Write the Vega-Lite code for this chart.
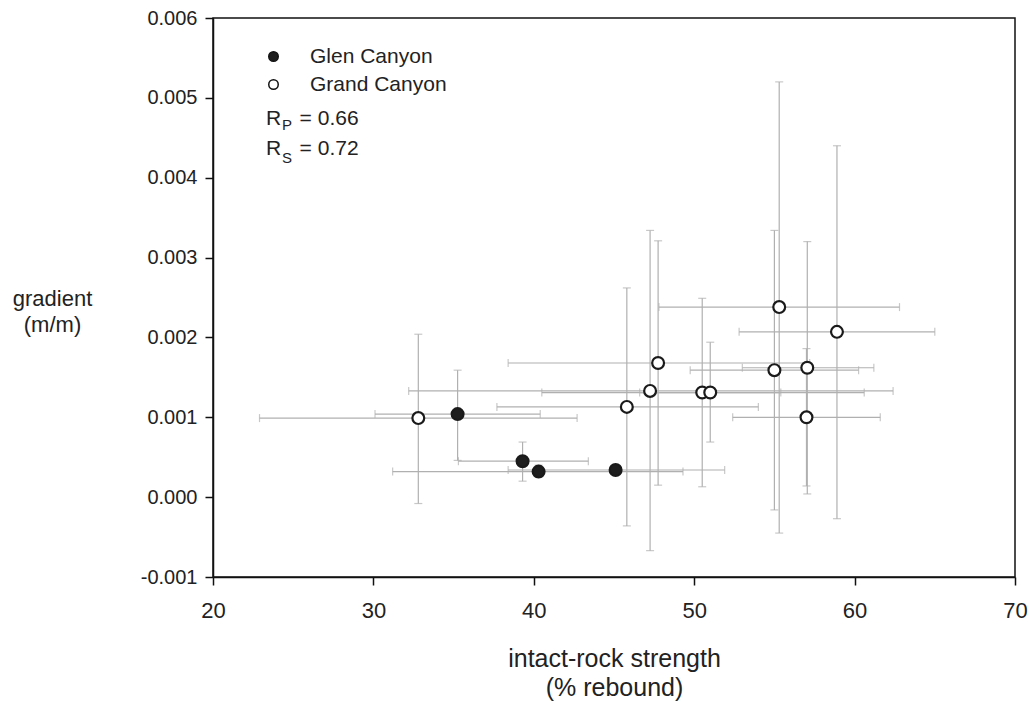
{
  "$schema": "https://vega.github.io/schema/vega-lite/v6.json",
  "width": 802,
  "height": 559,
  "autosize": {"type": "none"},
  "padding": {"left": 213, "top": 18, "right": 14, "bottom": 125},
  "background": "white",
  "config": {
    "view": {"stroke": "#111", "strokeWidth": 1.5},
    "axis": {
      "grid": false,
      "domainColor": "#111",
      "domainWidth": 1.5,
      "tickColor": "#111",
      "tickWidth": 1.5,
      "tickSize": 8,
      "labelColor": "#222",
      "titleColor": "#222",
      "labelFont": "Liberation Sans",
      "titleFont": "Liberation Sans",
      "labelFontSize": 20,
      "titleFontSize": 22,
      "titleFontWeight": "normal",
      "labelFlush": false
    },
    "legend": {
      "orient": "none",
      "legendX": 50,
      "legendY": 28,
      "padding": 0,
      "labelFont": "Liberation Sans",
      "labelFontSize": 21,
      "labelColor": "#222",
      "labelOffset": 26,
      "symbolSize": 90,
      "symbolType": "circle",
      "symbolStrokeColor": "#111",
      "symbolStrokeWidth": 1.5,
      "rowPadding": 6
    }
  },
  "datasets": {
    "pts": [
      {"site": "Glen Canyon", "x": 35.25, "y": 0.00104, "xlo": 30.1, "xhi": 40.4, "ylo": 0.00046, "yhi": 0.00159},
      {"site": "Glen Canyon", "x": 39.3, "y": 0.00045, "xlo": 35.3, "xhi": 43.4, "ylo": 0.0002, "yhi": 0.00069},
      {"site": "Glen Canyon", "x": 40.3, "y": 0.00032, "xlo": 31.2, "xhi": 49.3, "ylo": 0.00025, "yhi": 0.0004},
      {"site": "Glen Canyon", "x": 45.1, "y": 0.00034, "xlo": 38.4, "xhi": 51.9, "ylo": 0.0003, "yhi": 0.00038},
      {"site": "Grand Canyon", "x": 32.8, "y": 0.00099, "xlo": 22.9, "xhi": 42.7, "ylo": -0.00008, "yhi": 0.00204},
      {"site": "Grand Canyon", "x": 45.8, "y": 0.00113, "xlo": 37.7, "xhi": 54.0, "ylo": -0.00036, "yhi": 0.00262},
      {"site": "Grand Canyon", "x": 47.25, "y": 0.00133, "xlo": 32.2, "xhi": 62.4, "ylo": -0.00067, "yhi": 0.00334},
      {"site": "Grand Canyon", "x": 47.75, "y": 0.00168, "xlo": 38.4, "xhi": 57.2, "ylo": 0.00015, "yhi": 0.00321},
      {"site": "Grand Canyon", "x": 50.5, "y": 0.00131, "xlo": 40.5, "xhi": 60.6, "ylo": 0.00013, "yhi": 0.00249},
      {"site": "Grand Canyon", "x": 51.0, "y": 0.00131, "xlo": 46.6, "xhi": 55.4, "ylo": 0.00069, "yhi": 0.00194},
      {"site": "Grand Canyon", "x": 55.0, "y": 0.00159, "xlo": 49.75, "xhi": 60.25, "ylo": -0.00016, "yhi": 0.00334},
      {"site": "Grand Canyon", "x": 55.3, "y": 0.00238, "xlo": 47.8, "xhi": 62.8, "ylo": -0.00045, "yhi": 0.0052},
      {"site": "Grand Canyon", "x": 57.05, "y": 0.00162, "xlo": 53.0, "xhi": 61.2, "ylo": 0.00004, "yhi": 0.0032},
      {"site": "Grand Canyon", "x": 57.0, "y": 0.001, "xlo": 52.4, "xhi": 61.6, "ylo": 0.00014, "yhi": 0.00186},
      {"site": "Grand Canyon", "x": 58.9, "y": 0.00207, "xlo": 52.8, "xhi": 65.0, "ylo": -0.00027, "yhi": 0.0044}
    ],
    "notes": [
      {"t": "R", "x": 23.3, "y": 0.00466, "k": "m"},
      {"t": "P", "x": 24.3, "y": 0.0046, "k": "s"},
      {"t": "= 0.66", "x": 25.4, "y": 0.00466, "k": "m"},
      {"t": "R", "x": 23.3, "y": 0.00428, "k": "m"},
      {"t": "S", "x": 24.3, "y": 0.00419, "k": "s"},
      {"t": "= 0.72", "x": 25.4, "y": 0.00428, "k": "m"}
    ]
  },
  "layer": [
    {
      "data": {"name": "pts"},
      "mark": {"type": "errorbar", "color": "#b0b0b0", "thickness": 1.2, "ticks": {"size": 8, "thickness": 1.2}},
      "encoding": {
        "x": {
          "field": "xlo", "type": "quantitative",
          "title": ["intact-rock strength", "(% rebound)"],
          "scale": {"domain": [20, 70], "nice": false, "zero": false},
          "axis": {
            "values": [20, 30, 40, 50, 60, 70],
            "labelPadding": 15,
            "labelFont": "Liberation Sans Narrow, Liberation Sans",
            "labelFontSize": 22,
            "titleFont": "Liberation Sans Narrow, Liberation Sans",
            "titleFontSize": 25,
            "titleX": 401, "titleY": 89,
            "titleAlign": "center", "titleBaseline": "alphabetic",
            "titleLineHeight": 29
          }
        },
        "x2": {"field": "xhi"},
        "y": {
          "field": "y", "type": "quantitative",
          "title": ["gradient", "(m/m)"],
          "scale": {"domain": [-0.001, 0.006], "nice": false, "zero": false},
          "axis": {
            "values": [-0.001, 0, 0.001, 0.002, 0.003, 0.004, 0.005, 0.006],
            "labelExpr": "datum.value < 0 ? '-' + format(-datum.value, '.3f') : format(datum.value, '.3f')",
            "labelPadding": 8,
            "titleAngle": 0,
            "titleX": -161, "titleY": 287,
            "titleAlign": "center", "titleBaseline": "alphabetic",
            "titleLineHeight": 26
          }
        }
      }
    },
    {
      "data": {"name": "pts"},
      "mark": {"type": "errorbar", "color": "#b0b0b0", "thickness": 1.2, "ticks": {"size": 8, "thickness": 1.2}},
      "encoding": {
        "x": {"field": "x", "type": "quantitative", "title": ["intact-rock strength", "(% rebound)"]},
        "y": {"field": "ylo", "type": "quantitative", "title": ["gradient", "(m/m)"]},
        "y2": {"field": "yhi"}
      }
    },
    {
      "data": {"name": "pts"},
      "mark": {"type": "point", "shape": "circle", "filled": true, "size": 140, "stroke": "#1a1a1a", "strokeWidth": 2.2, "opacity": 1},
      "encoding": {
        "x": {"field": "x", "type": "quantitative", "title": ["intact-rock strength", "(% rebound)"]},
        "y": {"field": "y", "type": "quantitative", "title": ["gradient", "(m/m)"]},
        "fill": {
          "field": "site", "type": "nominal",
          "scale": {"domain": ["Glen Canyon", "Grand Canyon"], "range": ["#1e1e1e", "#ffffff"]},
          "legend": {"title": null}
        }
      }
    },
    {
      "data": {"name": "notes"},
      "transform": [{"filter": "datum.k == 'm'"}],
      "mark": {"type": "text", "align": "left", "baseline": "alphabetic", "font": "Liberation Sans", "fontSize": 21, "color": "#222"},
      "encoding": {
        "x": {"field": "x", "type": "quantitative", "title": ["intact-rock strength", "(% rebound)"]},
        "y": {"field": "y", "type": "quantitative", "title": ["gradient", "(m/m)"]},
        "text": {"field": "t"}
      }
    },
    {
      "data": {"name": "notes"},
      "transform": [{"filter": "datum.k == 's'"}],
      "mark": {"type": "text", "align": "left", "baseline": "alphabetic", "font": "Liberation Sans", "fontSize": 15, "color": "#222"},
      "encoding": {
        "x": {"field": "x", "type": "quantitative", "title": ["intact-rock strength", "(% rebound)"]},
        "y": {"field": "y", "type": "quantitative", "title": ["gradient", "(m/m)"]},
        "text": {"field": "t"}
      }
    }
  ]
}
